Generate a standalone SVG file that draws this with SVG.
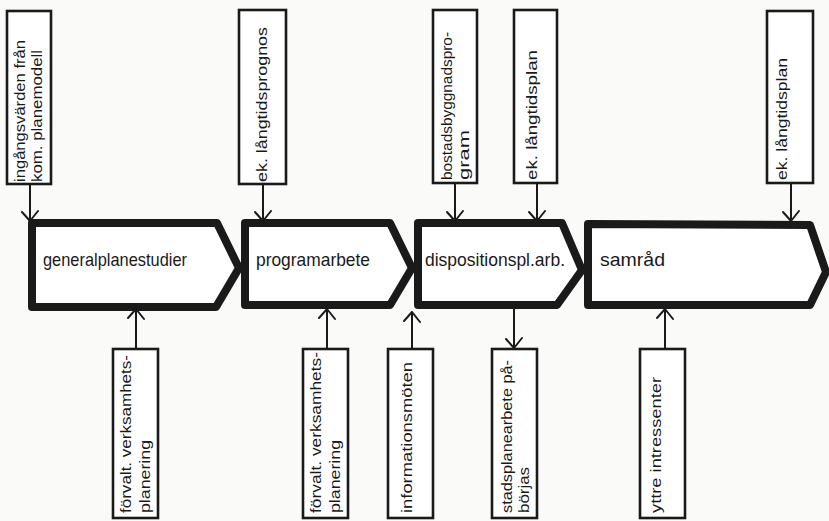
<svg xmlns="http://www.w3.org/2000/svg" width="829" height="521" viewBox="0 0 829 521">
<style>
.bg{fill:#fafaf8}
.chev{fill:#ffffff;stroke:#1a1a1a;stroke-width:8;stroke-linejoin:round}
.box{fill:#ffffff;stroke:#1a1a1a;stroke-width:2.6}
.ln{fill:none;stroke:#1a1a1a;stroke-width:2;stroke-linecap:round;stroke-linejoin:round}
.t{font-family:"Liberation Sans Narrow","Liberation Sans",Arial,sans-serif;font-size:15px;fill:#1a1a1a}
.c{font-family:"Liberation Sans Narrow","Liberation Sans",Arial,sans-serif;font-size:19px;fill:#1a1a1a}
</style>
<rect class="bg" x="0" y="0" width="829" height="521"/>

<g id="connectors">
  <!-- top arrows (down) -->
  <path class="ln" d="M30,184 V221 M22,212 L30,221 L38,211"/>
  <path class="ln" d="M263,184 V221 M255,212 L263,221 L271,211"/>
  <path class="ln" d="M455,183 V221 M447,212 L455,221 L463,211"/>
  <path class="ln" d="M537,183 V221 M529,212 L537,221 L545,211"/>
  <path class="ln" d="M791,183 V221 M783,212 L791,221 L799,211"/>
  <!-- bottom arrows -->
  <path class="ln" d="M136,349 V309 M128,318 L136,309 L144,319"/>
  <path class="ln" d="M327,349 V309 M319,318 L327,309 L335,319"/>
  <path class="ln" d="M412,349 V312 M404,321 L412,312 L420,322"/>
  <path class="ln" d="M514,307 V348 M506,339 L514,348 L522,338"/>
  <path class="ln" d="M665,349 V309 M657,318 L665,309 L673,319"/>
</g>

<g id="step-generalplanestudier">
  <path class="chev" d="M32,223 L217,223 L239,268 L216,307 L32,307 Z"/>
  <text class="c" x="43" y="266" textLength="144" lengthAdjust="spacingAndGlyphs">generalplanestudier</text>
</g>
<g id="step-programarbete">
  <path class="chev" d="M245,223 L390,223 L412,268 L390,305 L245,305 Z"/>
  <text class="c" x="256" y="266" textLength="114" lengthAdjust="spacingAndGlyphs">programarbete</text>
</g>
<g id="step-dispositionsplarb">
  <path class="chev" d="M418,223 L562,223 L582,270 L557,305 L418,305 Z"/>
  <text class="c" x="425" y="266" textLength="140" lengthAdjust="spacingAndGlyphs">dispositionspl.arb.</text>
</g>
<g id="step-samrad">
  <path class="chev" d="M588,224 L810,225 L826,272 L810,305 L588,305 Z"/>
  <text class="c" x="600" y="266" textLength="65" lengthAdjust="spacingAndGlyphs">samråd</text>
</g>

<g id="in-ingangsvarden">
  <rect class="box" x="7" y="11" width="44" height="173"/>
  <text class="t" transform="translate(25,182) rotate(-90)" textLength="142" lengthAdjust="spacingAndGlyphs">ingångsvärden från</text>
  <text class="t" transform="translate(42,182) rotate(-90)" textLength="132" lengthAdjust="spacingAndGlyphs">kom. planemodell</text>
</g>
<g id="in-langtidsprognos">
  <rect class="box" x="239" y="10" width="47" height="174"/>
  <text class="t" transform="translate(267,182) rotate(-90)" textLength="155" lengthAdjust="spacingAndGlyphs">ek. långtidsprognos</text>
</g>
<g id="in-bostadsbyggnadsprogram">
  <rect class="box" x="433" y="10" width="44" height="173"/>
  <text class="t" transform="translate(452,180) rotate(-90)" textLength="148" lengthAdjust="spacingAndGlyphs">bostadsbyggnadspro-</text>
  <text class="t" transform="translate(469,180) rotate(-90)" textLength="50" lengthAdjust="spacingAndGlyphs">gram</text>
</g>
<g id="in-langtidsplan-1">
  <rect class="box" x="514" y="10" width="43" height="173"/>
  <text class="t" transform="translate(537,180) rotate(-90)" textLength="130" lengthAdjust="spacingAndGlyphs">ek. långtidsplan</text>
</g>
<g id="in-langtidsplan-2">
  <rect class="box" x="767" y="11" width="46" height="172"/>
  <text class="t" transform="translate(787,180) rotate(-90)" textLength="122" lengthAdjust="spacingAndGlyphs">ek. långtidsplan</text>
</g>

<g id="in-forvalt-1">
  <rect class="box" x="113" y="349" width="45" height="169"/>
  <text class="t" transform="translate(131,513) rotate(-90)" textLength="158" lengthAdjust="spacingAndGlyphs">förvalt. verksamhets-</text>
  <text class="t" transform="translate(150,513) rotate(-90)" textLength="73" lengthAdjust="spacingAndGlyphs">planering</text>
</g>
<g id="in-forvalt-2">
  <rect class="box" x="303" y="349" width="45" height="169"/>
  <text class="t" transform="translate(321,513) rotate(-90)" textLength="161" lengthAdjust="spacingAndGlyphs">förvalt. verksamhets-</text>
  <text class="t" transform="translate(340,513) rotate(-90)" textLength="73" lengthAdjust="spacingAndGlyphs">planering</text>
</g>
<g id="in-informationsmoten">
  <rect class="box" x="388" y="349" width="45" height="169"/>
  <text class="t" transform="translate(412,513) rotate(-90)" textLength="151" lengthAdjust="spacingAndGlyphs">informationsmöten</text>
</g>
<g id="out-stadsplanearbete">
  <rect class="box" x="492" y="349" width="45" height="169"/>
  <text class="t" transform="translate(512,513) rotate(-90)" textLength="153" lengthAdjust="spacingAndGlyphs">stadsplanearbete på-</text>
  <text class="t" transform="translate(529,513) rotate(-90)" textLength="46" lengthAdjust="spacingAndGlyphs">börjas</text>
</g>
<g id="in-yttre-intressenter">
  <rect class="box" x="640" y="349" width="45" height="169"/>
  <text class="t" transform="translate(661,513) rotate(-90)" textLength="136" lengthAdjust="spacingAndGlyphs">yttre intressenter</text>
</g>
</svg>
